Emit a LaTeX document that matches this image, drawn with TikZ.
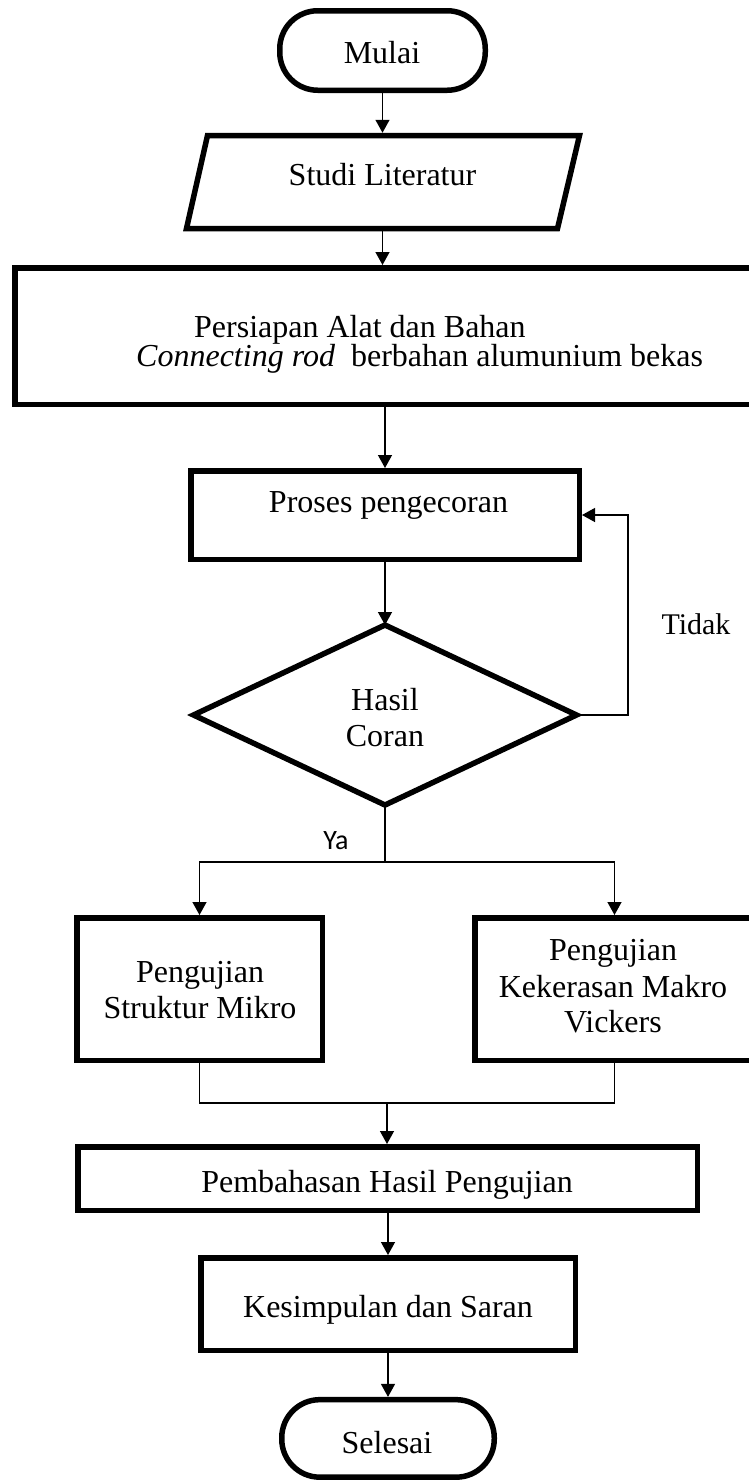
\documentclass[tikz,border=0pt]{standalone}
\usepackage{fontspec}
\setmainfont{Liberation Serif}
\newfontfamily\yafont{Carlito}
\usetikzlibrary{arrows.meta,shapes.geometric}
\begin{document}
\begin{tikzpicture}[x=1pt,y=-1pt,
  box/.style={draw, line width=5.5pt, rectangle, inner sep=0pt, outer sep=2.75pt},
  term/.style={box, rounded corners=38pt},
  conn/.style={line width=1.3pt},
  arr/.style={conn, -{Triangle[width=14pt,length=13pt]}},
  txt/.style={font=\fontsize{32}{38}\selectfont, inner sep=0pt, anchor=base},
]
\useasboundingbox (0,0) rectangle (749,1481);
% shapes
\node[term, minimum width=205.5pt, minimum height=79.5pt] (mulai) at (382.5,50.5) {};
\node[rectangle, inner sep=0pt, outer sep=2.75pt, minimum width=373pt, minimum height=93pt] (studi) at (382.5,182) {};
\draw[line width=5.5pt] (207.5,135.5) -- (579.5,135.5) -- (557.5,228.5) -- (186.5,228.5) -- cycle;
\node[box, minimum width=745.25pt, minimum height=136.5pt] (persiapan) at (387.4,336) {};
\node[box, minimum width=388.5pt, minimum height=88.5pt] (proses) at (385,515) {};
\node[diamond, draw, line width=5.5pt, minimum width=383pt, minimum height=180pt, inner sep=0pt, outer sep=0pt] (dia) at (385,715) {};
\node[box, minimum width=245.5pt, minimum height=142.5pt] (links) at (199.5,989) {};
\node[box, minimum width=279.5pt, minimum height=142.5pt] (kanan) at (614.5,989) {};
\node[box, minimum width=619.5pt, minimum height=63.5pt] (pembahasan) at (387.5,1178.5) {};
\node[box, minimum width=374.5pt, minimum height=92.5pt] (kesimpulan) at (388,1304) {};
\node[term, minimum width=212.5pt, minimum height=77.5pt] (selesai) at (388,1438.4) {};
% coordinates
\coordinate (fb) at (628,600);
\coordinate (j) at (385,862);
\coordinate (m) at (387,1103);
% connectors
\draw[arr] (mulai.south) -- (mulai.south |- studi.north);
\draw[arr] (studi.south) -- (studi.south |- persiapan.north);
\draw[arr] (proses.north |- persiapan.south) -- (proses.north);
\draw[arr] (proses.south) -- (dia.north);
\draw[arr] (dia.east) -- (dia.east -| fb) |- (proses.east);
\draw[conn] (dia.south) -- (j);
\draw[arr] (j) -| (links.north);
\draw[arr] (j) -| (kanan.north);
\draw[conn] (links.south) |- (m) -| (kanan.south);
\draw[arr] (m) -- (m |- pembahasan.north);
\draw[arr] (kesimpulan.north |- pembahasan.south) -- (kesimpulan.north);
\draw[arr] (kesimpulan.south) -- (selesai.north);
% texts
\node[txt] (tmulai) at (382,63) {Mulai};
\node[txt] (tstudi) at (382.5,185) {Studi Literatur};
\node[txt, anchor=base west] (tpers1) at (194,337) {Persiapan Alat dan Bahan};
\node[txt, anchor=base west] (tpers2) at (136,366) {\textit{Connecting rod}\hspace{8pt} berbahan alumunium bekas};
\node[txt] (tproses) at (388.5,512) {Proses pengecoran};
\node[txt] (thasil) at (385,710) {Hasil};
\node[txt] (tcoran) at (385,746) {Coran};
\node[txt, font=\fontsize{30}{36}\selectfont] (ttidak) at (696,634) {Tidak};
\node[inner sep=0pt, anchor=base, font=\yafont\fontsize{28}{34}\selectfont] (tya) at (336,849) {Ya};
\node[txt] (tl1) at (200,982) {Pengujian};
\node[txt] (tl2) at (200,1018) {Struktur Mikro};
\node[txt] (tr1) at (613,960) {Pengujian};
\node[txt] (tr2) at (613,997) {Kekerasan Makro};
\node[txt] (tr3) at (613,1032) {Vickers};
\node[txt] (tpemb) at (387,1192) {Pembahasan Hasil Pengujian};
\node[txt] (tkes) at (388,1317) {Kesimpulan dan Saran};
\node[txt] (tsel) at (387,1453) {Selesai};
\end{tikzpicture}
\end{document}
